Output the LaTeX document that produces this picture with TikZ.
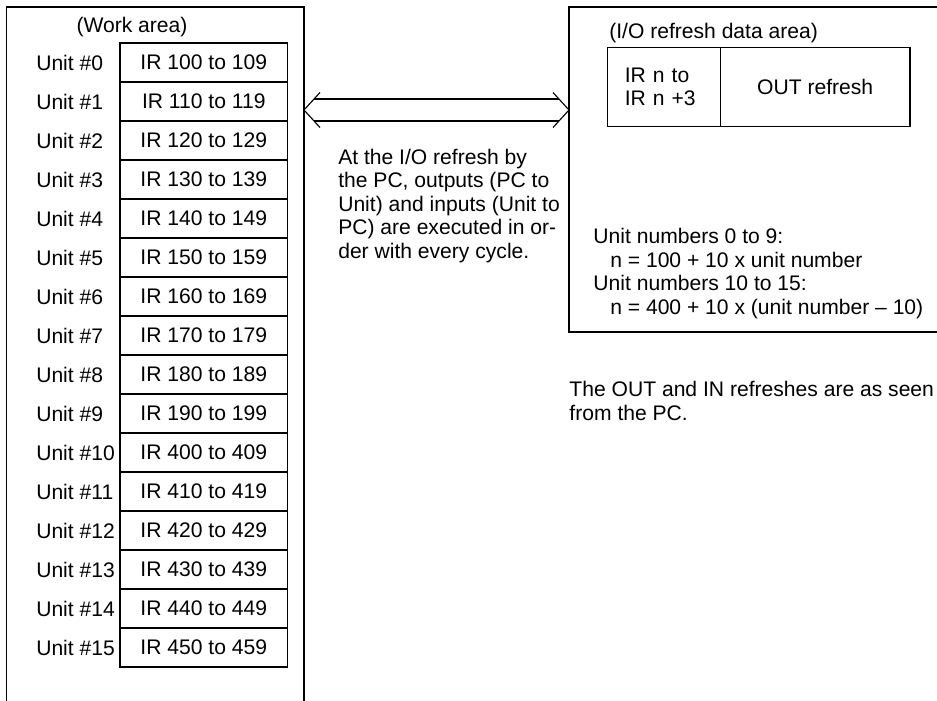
\documentclass[tikz,border=0pt]{standalone}
\usepackage{fontspec}
\setmainfont{Liberation Sans}
\usetikzlibrary{positioning, calc}
\tikzset{
    txt/.style={font=\fontsize{15pt}{16.7pt}\selectfont, inner sep=0pt},
    areabox/.style={rectangle, draw, line width=0.8pt, outer sep=0pt, anchor=north west},
    irbox/.style={rectangle, draw, line width=0.8pt, outer sep=0pt, minimum width=4.19cm, minimum height=0.975cm, txt},
    unitlbl/.style={txt, anchor=west},
    cell/.style={rectangle, draw, line width=0.8pt, outer sep=0pt, minimum height=1.99cm, txt},
    shaft/.style={line width=0.8pt}
}

\begin{document}
\begin{tikzpicture}
    \useasboundingbox (0,0) rectangle (23.425,-17.525);
    % the two areas run off the page edge
    \begin{scope}
        \clip (0,0) rectangle (23.425,-17.525);
        \node[areabox, minimum width=7.44cm, minimum height=18cm] (work) at (0.16,-0.175) {};
        \node[areabox, minimum width=10cm, minimum height=8.125cm] (refresh) at (14.225,-0.175) {};
    \end{scope}

    % work area
    \node[txt] (worklbl) at (3.3,-0.665) {(Work area)};
    \node[irbox] (r0) at (5.094,-1.5625) {IR 100 to 109};
    \foreach \lo [count=\i] in {110,120,130,140,150,160,170,180,190,400,410,420,430,440,450} {
        \pgfmathtruncatemacro{\hi}{\lo+9}
        \pgfmathtruncatemacro{\j}{\i-1}
        \node[irbox, below=0pt of r\j] (r\i) {IR \lo{} to \hi};
    }
    \foreach \i in {0,...,15}
        \node[unitlbl] (u\i) at ($(work.west |- r\i)+(0.74,0)$) {Unit \#\i};

    % double arrow between the areas
    \coordinate (la) at ([yshift=-2.575cm]work.north east);
    \coordinate (ra) at ([yshift=-2.575cm]refresh.north west);
    \draw[shaft] ($(la)+(0.4,0.4375)$) -- (la) -- ($(la)+(0.4,-0.4375)$);
    \draw[shaft] ($(ra)+(-0.4,0.4375)$) -- (ra) -- ($(ra)+(-0.4,-0.4375)$);
    \draw[shaft] ($(la)+(0.25,0.275)$) -- ($(ra)+(-0.25,0.275)$);
    \draw[shaft] ($(la)+(0.25,-0.275)$) -- ($(ra)+(-0.25,-0.275)$);
    \node[txt, anchor=north west, align=left] (cycle) at (8.45,-3.72)
        {At the I/O refresh by\\the PC, outputs (PC to\\Unit) and inputs (Unit to\\PC) are executed in or-\\der with every cycle.};

    % I/O refresh data area
    \node[txt, anchor=west] (iolbl) at (15.225,-0.825) {(I/O refresh data area)};
    \node[cell, anchor=north west, text width=1.96cm, inner xsep=0.43cm, align=left] (nrange) at (15.19,-1.18) {IR n to\\IR n +3};
    \node[cell, right=0pt of nrange, minimum width=4.74cm] (outref) {OUT refresh};
    \node[txt, anchor=north west, align=left] (formula) at (14.83,-5.71)
        {Unit numbers 0 to 9:\\\hspace*{0.42cm}n = 100 + 10 x unit number\\Unit numbers 10 to 15:\\\hspace*{0.42cm}n = 400 + 10 x (unit number -- 10)};
    \node[txt, anchor=north west, align=left] (note) at (14.23,-9.53)
        {The OUT and IN refreshes are as seen\\from the PC.};
\end{tikzpicture}
\end{document}
